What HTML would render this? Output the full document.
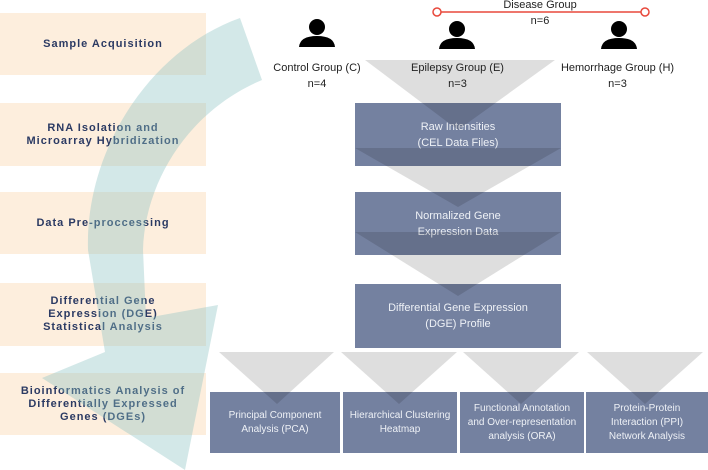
<!DOCTYPE html>
<html><head><meta charset="utf-8"><style>
body{margin:0;width:708px;height:470px;background:#fff;position:relative;overflow:hidden;font-family:"Liberation Sans",sans-serif}
.l{position:absolute;left:0;width:206px;background:#fdeedd;display:flex;align-items:center;justify-content:center;text-align:center;color:#2b3a63;font-weight:bold;font-size:11px;letter-spacing:1px;line-height:13px}
.b{position:absolute;background:#7481a0;color:#eef1f6;display:flex;align-items:center;justify-content:center;text-align:center;font-size:11px;line-height:16px}
.t{position:absolute;font-size:11px;text-align:center;color:#222;line-height:16px}
svg{position:absolute;left:0;top:0}
</style></head><body>
<div class="l" style="top:13px;height:62px">Sample Acquisition</div>
<div class="l" style="top:103px;height:63px">RNA Isolation and<br>Microarray Hybridization</div>
<div class="l" style="top:192px;height:62px">Data Pre-proccessing</div>
<div class="l" style="top:283px;height:63px">Differential Gene<br>Expression (DGE)<br>Statistical Analysis</div>
<div class="l" style="top:373px;height:62px">Bioinformatics Analysis of<br>Differentially Expressed<br>Genes (DGEs)</div>
<div class="b" style="left:355px;top:103px;width:206px;height:63px">Raw Intensities<br>(CEL Data Files)</div>
<div class="b" style="left:355px;top:192px;width:206px;height:63px">Normalized Gene<br>Expression Data</div>
<div class="b" style="left:355px;top:284px;width:206px;height:64px">Differential Gene Expression<br>(DGE) Profile</div>
<div class="b" style="left:210px;top:392px;width:130px;height:61px;font-size:10px;line-height:14px">Principal Component<br>Analysis (PCA)</div>
<div class="b" style="left:343px;top:392px;width:114px;height:61px;font-size:10px;line-height:14px">Hierarchical Clustering<br>Heatmap</div>
<div class="b" style="left:460px;top:392px;width:124px;height:61px;font-size:10px;line-height:14px">Functional Annotation<br>and Over-representation<br>analysis (ORA)</div>
<div class="b" style="left:586px;top:392px;width:122px;height:61px;font-size:10px;line-height:14px">Protein-Protein<br>Interaction (PPI)<br>Network Analysis</div>
<svg width="708" height="470">
<path d="M240,18 L262,80 C190,110 145,180 143,250 L146,318 L218,305 L185,470 L42,378 L105,352 L88,250 C85,150 150,50 240,18 Z" fill="rgba(140,195,195,0.38)"/>
<g fill="rgba(0,0,0,0.13)">
<polygon points="365,60 555,60 458,130"/>
<polygon points="355,148 561,148 458,207"/>
<polygon points="355,232 561,232 458,296"/>
<polygon points="219,352 334,352 277,404"/>
<polygon points="341,352 457,352 399,404"/>
<polygon points="463,352 579,352 521,404"/>
<polygon points="587,352 703,352 645,404"/>
</g>
<line x1="441" y1="12" x2="641" y2="12" stroke="#e8483b" stroke-width="1.5"/>
<circle cx="437" cy="12" r="4" fill="#fff" stroke="#e8483b" stroke-width="1.5"/>
<circle cx="645" cy="12" r="4" fill="#fff" stroke="#e8483b" stroke-width="1.5"/>
<g fill="#000">
<circle cx="317" cy="27" r="8"/><path d="M299,47 Q300,36 317,36 Q334,36 335,47 Z"/>
<circle cx="457" cy="29" r="8"/><path d="M439,49 Q440,38 457,38 Q474,38 475,49 Z"/>
<circle cx="619" cy="29" r="8"/><path d="M601,49 Q602,38 619,38 Q636,38 637,49 Z"/>
</g>
</svg>
<div class="t" style="left:262px;top:60px;width:110px">Control Group (C)<br>n=4</div>
<div class="t" style="left:400px;top:60px;width:115px">Epilepsy Group (E)<br>n=3</div>
<div class="t" style="left:555px;top:60px;width:125px">Hemorrhage Group (H)<br>n=3</div>
<div class="t" style="left:490px;top:-3px;width:100px">Disease Group<br>n=6</div>
</body></html>
